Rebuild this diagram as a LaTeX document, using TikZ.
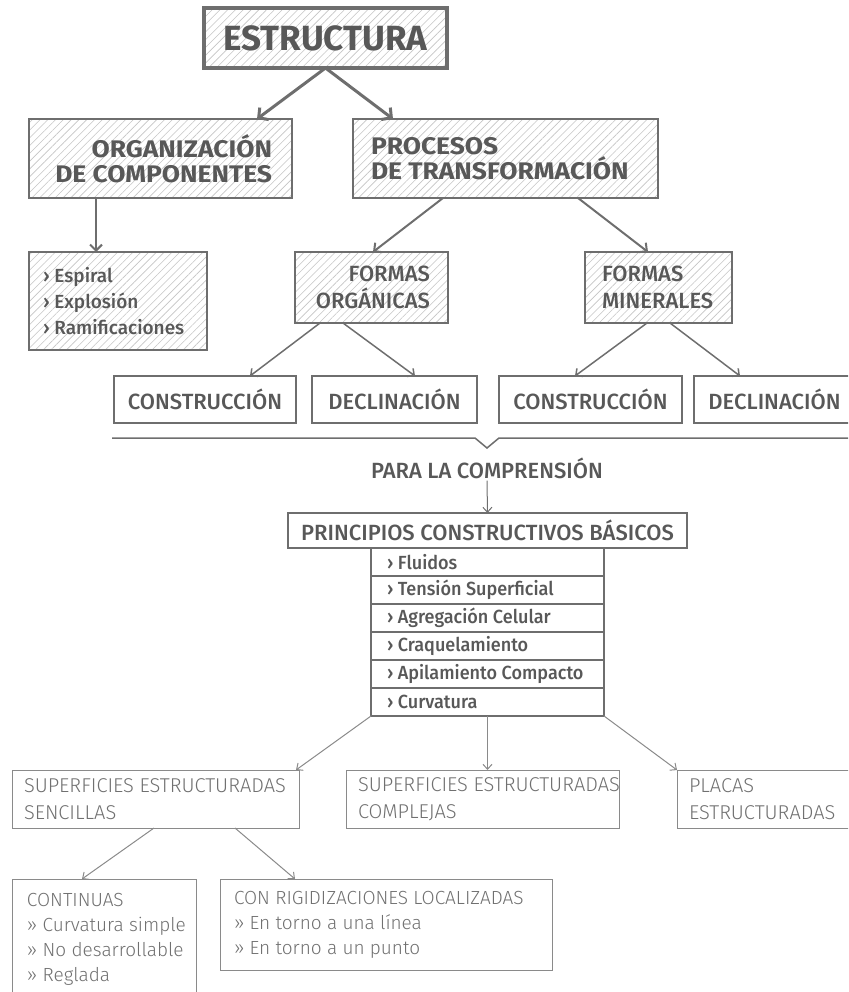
\documentclass[tikz,border=0pt]{standalone}
\usepackage{fontspec}
\setmainfont{Fira Sans}
\newfontfamily\fmed{Fira Sans Medium}
\newfontfamily\fmedc{Fira Sans Medium}[FakeStretch=0.95]
\newfontfamily\flight{Fira Sans Light}
\newfontfamily\fwide{Fira Sans Bold}[FakeStretch=1.1]
\usetikzlibrary{arrows.meta,patterns.meta}
\definecolor{txtc}{HTML}{585858}
\definecolor{linec}{HTML}{6E6E6E}
\definecolor{hatchc}{HTML}{C4C4C4}
\definecolor{ltxt}{HTML}{707070}
\definecolor{lline}{HTML}{8A8A8A}
\begin{document}
\begin{tikzpicture}[x=1pt,y=-1pt,
  hatch/.style={pattern={Lines[angle=45,distance=5.5pt,line width=0.6pt]},pattern color=hatchc},
  base/.style={draw=linec,text=txtc,anchor=north west,outer sep=0pt,inner ysep=0pt},
  topbox/.style={base,hatch,line width=2.5pt,font={\fwide\fontsize{24}{25}\selectfont}},
  formbox/.style={base,hatch,line width=2pt,font={\fmed\fontsize{22}{27}\selectfont}},
  plainbox/.style={base,line width=1.3pt,font={\fmed\fontsize{22}{25}\selectfont},align=center},
  rowbox/.style={base,line width=1.3pt,font={\fmedc\fontsize{19}{23}\selectfont},minimum width=233,minimum height=28,text width=201,inner xsep=16pt,align=flush left},
  lowbox/.style={base,draw=lline,text=ltxt,line width=1pt,font={\flight\fontsize{20}{27}\selectfont},align=flush left},
  arrA/.style={draw=linec,line width=3pt,-{Straight Barb[length=7pt,width=15pt]}},
  arrB/.style={draw=linec,line width=2pt,-{Straight Barb[length=6pt,width=12pt]}},
  arrC/.style={draw=linec,line width=1.5pt,-{Straight Barb[length=5pt,width=10pt]}},
  arrE/.style={draw=lline,line width=1pt,-{Straight Barb[length=5pt,width=9pt]}},
  sepline/.style={draw=linec,line width=1.5pt}]
\useasboundingbox (0,0) rectangle (848,992);
\clip (0,0) rectangle (848,992);

\node[base,hatch,line width=3.5pt,minimum width=243,minimum height=60,font={\bfseries\fontsize{35}{36}\selectfont}] (estr) at (204,8) {ESTRUCTURA};

\node[topbox,minimum width=263,minimum height=79,text width=223,inner xsep=20pt,align=flush right] (org) at (29,119) {ORGANIZACIÓN\\DE COMPONENTES};
\node[topbox,minimum width=305,minimum height=79,text width=269,inner xsep=18pt,align=flush left] (proc) at (353,119) {PROCESOS\\DE TRANSFORMACIÓN};

\node[base,hatch,line width=2pt,minimum width=178,minimum height=98,text width=150,inner xsep=14pt,align=flush left,font={\fmed\fontsize{19}{26}\selectfont}] (list) at (29,252) {› Espiral\\› Explosión\\› Ramificaciones};

\node[formbox,minimum width=153,minimum height=71,text width=117,inner xsep=18pt,align=flush right] (fo) at (295,252) {FORMAS\\ORGÁNICAS};
\node[formbox,minimum width=147,minimum height=71,text width=113,inner xsep=17pt,align=flush left] (fm) at (585,252) {FORMAS\\MINERALES};

\node[plainbox,minimum width=182,minimum height=47] (c1) at (114,376) {CONSTRUCCIÓN};
\node[plainbox,minimum width=165,minimum height=47] (d1) at (312,376) {DECLINACIÓN};
\node[plainbox,minimum width=183,minimum height=47] (c2) at (499,376) {CONSTRUCCIÓN};
\node[plainbox,minimum width=161,minimum height=47] (d2) at (694,376) {DECLINACIÓN};

\draw[arrA] (estr.south) -- ([xshift=-35pt]org.north east);
\draw[arrA] (estr.south) -- ([xshift=40pt]proc.north west);
\draw[arrB] ([xshift=67pt]org.south west) -- ([xshift=67pt]list.north west);
\draw[arrB] ([xshift=90pt]proc.south west) -- ([xshift=78pt]fo.north west);
\draw[arrB] ([xshift=225pt]proc.south west) -- ([xshift=63pt]fm.north west);
\draw[arrC] ([xshift=25pt]fo.south west) -- ([xshift=136pt]c1.north west);
\draw[arrC] ([xshift=48pt]fo.south west) -- ([xshift=103pt]d1.north west);
\draw[arrC] ([xshift=62pt]fm.south west) -- ([xshift=76pt]c2.north west);
\draw[arrC] ([xshift=85pt]fm.south west) -- ([xshift=46pt]d2.north west);

\coordinate (sepL) at (112,438);
\coordinate (sepR) at (850,438);
\coordinate (notch) at (487,448);
\draw[sepline,line join=miter] (sepL) -- ([xshift=-12pt]notch |- sepL) -- (notch) -- ([xshift=12pt]notch |- sepL) -- (sepR);

\node[text=txtc,font={\fmed\fontsize{22}{25}\selectfont},inner sep=2pt] (para) at (487,468) {PARA LA COMPRENSIÓN};
\node[plainbox,minimum width=399,minimum height=35] (princ) at (288,513) {PRINCIPIOS CONSTRUCTIVOS BÁSICOS};
\draw[draw=linec,line width=1pt,-{Straight Barb[length=5pt,width=9pt]}] (para.south) -- (princ.north);

\node[rowbox] (r1) at (371,548) {› Fluidos};
\node[rowbox] (r2) at (371,576) {› Tensión Superficial};
\node[rowbox] (r3) at (371,604) {› Agregación Celular};
\node[rowbox] (r4) at (371,632) {› Craquelamiento};
\node[rowbox] (r5) at (371,660) {› Apilamiento Compacto};
\node[rowbox] (r6) at (371,688) {› Curvatura};

\node[lowbox,minimum width=287,minimum height=58,text width=263,inner xsep=12pt] (supS) at (12,770) {\mbox{SUPERFICIES ESTRUCTURADAS}\\SENCILLAS};
\node[lowbox,minimum width=273,minimum height=58,text width=249,inner xsep=12pt] (supC) at (346,770) {\mbox{SUPERFICIES ESTRUCTURADAS}\\COMPLEJAS};
\node[lowbox,minimum width=175,minimum height=58,text width=151,inner xsep=12pt] (plac) at (677,770) {PLACAS\\ESTRUCTURADAS};

\draw[arrE] (r6.south west) -- ([xshift=-3pt]supS.north east);
\draw[arrE] (r6.south) -- (r6.south |- supC.north);
\draw[arrE] (r6.south east) -- (plac.north west);

\node[lowbox,minimum width=184,minimum height=121,text width=154,inner xsep=15pt,font={\flight\fontsize{19}{25}\selectfont}] (cont) at (12,879) {CONTINUAS\\\mbox{» Curvatura simple}\\\mbox{» No desarrollable}\\» Reglada};
\node[lowbox,minimum width=332,minimum height=91,text width=304,inner xsep=14pt,font={\flight\fontsize{19}{25}\selectfont}] (crig) at (220,879) {\mbox{CON RIGIDIZACIONES LOCALIZADAS}\\\mbox{» En torno a una línea}\\\mbox{» En torno a un punto}};

\draw[arrE] ([xshift=142pt]supS.south west) -- ([xshift=70pt]cont.north west);
\draw[arrE] ([xshift=223pt]supS.south west) -- ([xshift=75pt]crig.north west);
\end{tikzpicture}
\end{document}
